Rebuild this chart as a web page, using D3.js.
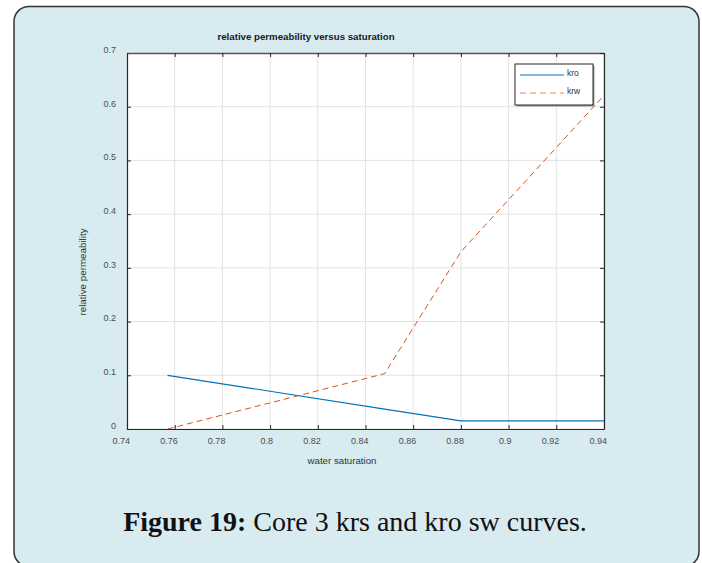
<!DOCTYPE html>
<html>
<head>
<meta charset="utf-8">
<script src="https://cdn.jsdelivr.net/npm/d3@7"></script>
<style>
  html, body { margin: 0; padding: 0; background: #ffffff; }
  svg { display: block; }
</style>
</head>
<body>
<script>
// Water saturation sample points and relative permeabilities
const sw  = [0.757, 0.848, 0.88, 0.94];
const kro = [0.1, 0.037, 0.015, 0.015];
const krw = [0.0, 0.103, 0.33, 0.621];

const xTicks = [0.74, 0.76, 0.78, 0.8, 0.82, 0.84, 0.86, 0.88, 0.9, 0.92, 0.94];
const yTicks = [0, 0.1, 0.2, 0.3, 0.4, 0.5, 0.6, 0.7];
const seriesNames = ["kro", "krw"];

const W = 702, H = 563;
const plot = { left: 127, top: 53, width: 477, height: 376 };

const svg = d3.select("body").append("svg")
  .attr("width", W).attr("height", H);

// Figure panel
svg.append("rect")
  .attr("x", 14).attr("y", 6.5)
  .attr("width", 685).attr("height", 560)
  .attr("rx", 15).attr("ry", 15)
  .attr("fill", "#d7ebf1")
  .attr("stroke", "#333")
  .attr("stroke-width", 1.5);

const x = d3.scaleLinear().domain([0.74, 0.94]).range([0, plot.width]);
const y = d3.scaleLinear().domain([0, 0.7]).range([plot.height, 0]);

const g = svg.append("g").attr("transform", `translate(${plot.left},${plot.top})`);

g.append("rect")
  .attr("width", plot.width).attr("height", plot.height)
  .attr("fill", "#fff");

// Grid
g.append("g").selectAll("line").data(xTicks).join("line")
  .attr("x1", d => x(d)).attr("x2", d => x(d))
  .attr("y1", 0).attr("y2", plot.height)
  .attr("stroke", "#e3e3e3").attr("stroke-width", 1);
g.append("g").selectAll("line").data(yTicks).join("line")
  .attr("x1", 0).attr("x2", plot.width)
  .attr("y1", d => y(d)).attr("y2", d => y(d))
  .attr("stroke", "#e3e3e3").attr("stroke-width", 1);

// Axes (box with inward ticks on all four sides)
const axisColor = "#262626";
const tickLen = 4;
const font = "Liberation Sans, Arial, sans-serif";
const styleAxis = sel => {
  sel.select(".domain").attr("stroke", axisColor).attr("stroke-width", 1.2);
  sel.selectAll(".tick line").attr("stroke", axisColor);
  sel.selectAll("text")
    .attr("fill", "#4d4d4d")
    .style("font-family", font)
    .style("font-size", "9px");
};

const xAxis = g.append("g").attr("transform", `translate(0,${plot.height})`)
  .call(d3.axisBottom(x).tickValues(xTicks).tickFormat(d3.format("~g"))
        .tickSizeInner(-tickLen).tickSizeOuter(0).tickPadding(9));
styleAxis(xAxis);
xAxis.selectAll("text").attr("text-anchor", "end").attr("dx", 2.5);

const yAxis = g.append("g")
  .call(d3.axisLeft(y).tickValues(yTicks).tickFormat(d3.format("~g"))
        .tickSizeInner(-tickLen).tickSizeOuter(0).tickPadding(11));
styleAxis(yAxis);
yAxis.selectAll("text").attr("dy", "0").attr("dominant-baseline", "middle")
  .attr("transform", "translate(0,-3)");

const xTop = g.append("g")
  .call(d3.axisTop(x).tickValues(xTicks).tickFormat("")
        .tickSizeInner(-tickLen).tickSizeOuter(0));
styleAxis(xTop);
xTop.select(".domain").attr("stroke", "#555").attr("stroke-width", 1.6);

const yRight = g.append("g").attr("transform", `translate(${plot.width},0)`)
  .call(d3.axisRight(y).tickValues(yTicks).tickFormat("")
        .tickSizeInner(-tickLen).tickSizeOuter(0));
styleAxis(yRight);

// Curves
const line = d3.line().x(d => x(d[0])).y(d => y(d[1]));
const kroPts = sw.map((s, i) => [s, kro[i]]);
const krwPts = sw.map((s, i) => [s, krw[i]]);

g.append("path").datum(kroPts)
  .attr("d", line)
  .attr("fill", "none")
  .attr("stroke", "#0072bd")
  .attr("stroke-width", 1.2);

g.append("path").datum(krwPts)
  .attr("d", line)
  .attr("fill", "none")
  .attr("stroke", "#d95319")
  .attr("stroke-width", 1)
  .attr("stroke-dasharray", "6,4");

// Title and axis labels
svg.append("text")
  .attr("x", 306).attr("y", 40)
  .attr("text-anchor", "middle")
  .style("font-family", font).style("font-size", "9.7px").style("font-weight", "bold")
  .attr("fill", "#1a1a1a")
  .text("relative permeability versus saturation");

svg.append("text")
  .attr("x", 342).attr("y", 464)
  .attr("text-anchor", "middle")
  .style("font-family", font).style("font-size", "9.7px")
  .attr("fill", "#333")
  .text("water saturation");

svg.append("text")
  .attr("transform", "translate(86,272) rotate(-90)")
  .attr("text-anchor", "middle")
  .style("font-family", font).style("font-size", "9.8px")
  .attr("fill", "#333")
  .text("relative permeability");

// Legend
const lg = svg.append("g").attr("transform", "translate(515,64)");
lg.append("rect").attr("x", 1.5).attr("y", 1.5).attr("width", 78).attr("height", 41)
  .attr("fill", "#9a9a9a");
lg.append("rect").attr("width", 78).attr("height", 41)
  .attr("fill", "#fff").attr("stroke", "#262626").attr("stroke-width", 1);
const legendStyles = [
  { color: "#0072bd", dash: null, width: 1.2 },
  { color: "#e58a62", dash: "6,4", width: 1 }
];
seriesNames.forEach((name, i) => {
  const yy = 11 + i * 18;
  lg.append("line")
    .attr("x1", 5).attr("x2", 49).attr("y1", yy).attr("y2", yy)
    .attr("stroke", legendStyles[i].color)
    .attr("stroke-width", legendStyles[i].width)
    .attr("stroke-dasharray", legendStyles[i].dash);
  lg.append("text")
    .attr("x", 52).attr("y", yy - 1)
    .attr("dominant-baseline", "middle")
    .style("font-family", font).style("font-size", "8.5px")
    .attr("fill", "#333")
    .text(name);
});

// Caption
const cap = svg.append("text")
  .attr("x", 355).attr("y", 531)
  .attr("text-anchor", "middle")
  .style("font-family", "Liberation Serif, serif").style("font-size", "28px")
  .attr("fill", "#111");
cap.append("tspan").style("font-weight", "bold").text("Figure 19:");
cap.append("tspan").text(" Core 3 krs and kro sw curves.");
</script>
</body>
</html>
